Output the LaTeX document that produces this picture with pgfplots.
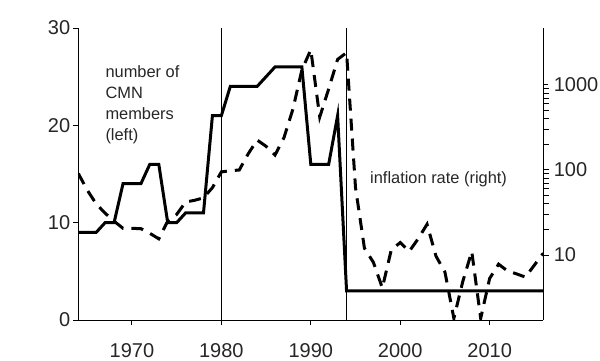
\documentclass[border=0pt]{standalone}
\usepackage{pgfplots}
\pgfplotsset{compat=1.18}
\usepackage{fontspec}
\setmainfont{Liberation Sans}

\pgfplotstableread{
year members
1964 9
1966 9
1967 10
1968 10
1969 14
1971 14
1972 16
1973 16
1974 10
1975 10
1976 11
1978 11
1979 21
1980 21
1981 24
1984 24
1986 26
1989 26
1990 16
1992 16
1993 21
1994 3
2016 3
}\members

\pgfplotstableread{
year infl
1964 91
1965 58
1966 40
1967 31
1968 25
1969 20.6
1970 20.6
1971 20.4
1972 18
1973 15.5
1974 25
1975 30
1976 42
1977 44
1978 47
1979 62
1980 95
1981 98
1982 100
1983 155
1984 225
1985 190
1986 150
1987 240
1988 520
1989 1500
1990 2600
1991 420
1992 900
1993 2000
1994 2400
1995 62
1996 12
1997 8.2
1998 4.1
1999 11.5
2000 14
2001 11
2002 15.5
2003 23
2004 9.7
2005 6.3
2006 1.8
2007 4.9
2008 11
2009 1.8
2010 5.3
2011 7.8
2012 6.5
2013 6.0
2014 5.5
2015 7.6
2016 10.5
}\infl

\begin{document}
\begin{tikzpicture}[x=1pt,y=1pt]
\useasboundingbox (-39.15,-20) rectangle (260.85,160);
\begin{axis}[
  at={(0,0)}, anchor=south west,
  scale only axis, width=232.5pt, height=146pt,
  xmin=1964, xmax=2016, ymin=0, ymax=30,
  axis x line*=bottom, axis y line*=left,
  xtick={1970,1980,1990,2000,2010}, ytick={0,10,20,30},
  tick align=outside, major tick length=2.5pt,
  /pgf/number format/1000 sep={},
  /pgf/number format/assume math mode=true,
  tick label style={font=\fontsize{10}{12}\selectfont, color=black!85},
  xticklabel style={yshift=-5.5pt},
  yticklabel style={xshift=2pt},
  axis line style={line width=0.5pt},
  every tick/.style={line width=0.5pt, black},
]
\draw[line width=0.5pt] (axis cs:1980,0) -- (axis cs:1980,30);
\draw[line width=0.5pt] (axis cs:1994,0) -- (axis cs:1994,30);
\addplot[black, line width=1.5pt, line join=miter] table[x=year, y=members] {\members};
\begin{scope}[every node/.style={anchor=base west, inner sep=0pt, font=\fontsize{8.2}{10.5}\selectfont, color=black!85}]
\node at (axis cs:1967,24.9) {number of};
\node at (axis cs:1967,22.75) {CMN};
\node at (axis cs:1967,20.59) {members};
\node at (axis cs:1967,18.44) {(left)};
\node at (axis cs:1996.6,14.0) {inflation rate (right)};
\end{scope}
\end{axis}
\begin{axis}[
  at={(0,0)}, anchor=south west,
  scale only axis, width=232.5pt, height=146pt,
  xmin=1964, xmax=2016, ymode=log, ymin=1.72, ymax=4680,
  axis x line=none, axis y line*=right,
  ytick={10,100,1000}, yticklabels={10,100,1000}, minor ytick={},
  tick align=outside, major tick length=2.5pt,
  /pgf/number format/assume math mode=true,
  tick label style={font=\fontsize{10}{12}\selectfont, color=black!85},
  yticklabel style={xshift=-0.8pt},
  axis line style={line width=0.5pt},
  every tick/.style={line width=0.5pt, black},
]
\addplot[black, line width=1.5pt, dash pattern=on 6pt off 4pt] table[x=year, y=infl] {\infl};
\end{axis}
\end{tikzpicture}
\end{document}
